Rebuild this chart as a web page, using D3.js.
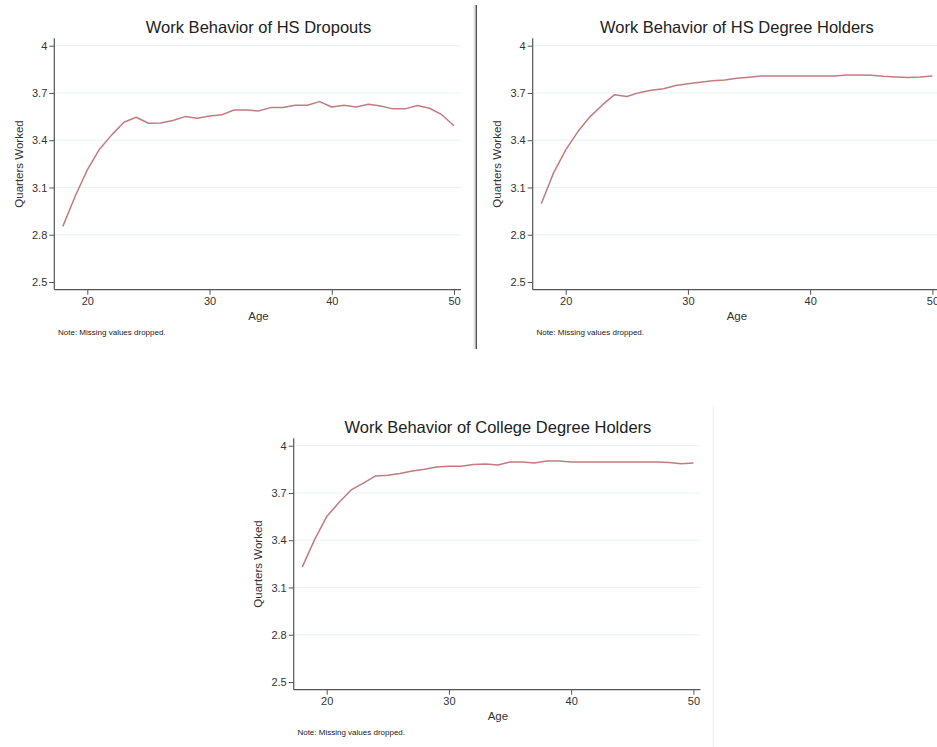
<!DOCTYPE html>
<html>
<head>
<meta charset="utf-8">
<script src="https://cdn.jsdelivr.net/npm/d3@7"></script>
<style>
  body { margin: 0; background: #fff; }
  svg { display: block; font-family: "Liberation Sans", Arial, Helvetica, sans-serif; }
</style>
</head>
<body>
<svg id="chart" width="937" height="747"></svg>
<script>
// --- Data ---
const ages = d3.range(18, 51);

const dropouts = [
  2.853, 3.043, 3.212, 3.343, 3.434, 3.514, 3.546, 3.508, 3.510, 3.525,
  3.550, 3.540, 3.554, 3.561, 3.592, 3.592, 3.585, 3.607, 3.607, 3.622,
  3.622, 3.645, 3.611, 3.622, 3.611, 3.628, 3.617, 3.599, 3.599, 3.620,
  3.603, 3.562, 3.492
];

const hsDegree = [
  2.997, 3.191, 3.339, 3.455, 3.550, 3.624, 3.689, 3.677, 3.702, 3.717,
  3.727, 3.747, 3.759, 3.768, 3.778, 3.783, 3.793, 3.800, 3.808, 3.808,
  3.808, 3.808, 3.808, 3.808, 3.808, 3.814, 3.814, 3.812, 3.806, 3.802,
  3.798, 3.802, 3.808
];

const college = [
  3.229, 3.402, 3.550, 3.639, 3.719, 3.762, 3.808, 3.812, 3.823, 3.840,
  3.850, 3.865, 3.869, 3.869, 3.880, 3.884, 3.878, 3.897, 3.897, 3.890,
  3.903, 3.903, 3.897, 3.897, 3.897, 3.897, 3.897, 3.897, 3.897, 3.897,
  3.893, 3.886, 3.890
];

const yTicks = [2.5, 2.8, 3.1, 3.4, 3.7, 4];
const xTicks = [20, 30, 40, 50];

const panels = [
  { title: "Work Behavior of HS Dropouts", values: dropouts, dx: 0, dy: 0 },
  { title: "Work Behavior of HS Degree Holders", values: hsDegree, dx: 478.4, dy: 0 },
  { title: "Work Behavior of College Degree Holders", values: college, dx: 239.4, dy: 400 }
];

const svg = d3.select("#chart");
svg.append("rect").attr("width", 937).attr("height", 747).attr("fill", "#fff");

// --- Separators between the graphs ---
svg.append("line")
  .attr("x1", 474.5).attr("x2", 474.5).attr("y1", 5).attr("y2", 349)
  .attr("stroke", "#e2e2e2").attr("stroke-width", 2);
svg.append("line")
  .attr("x1", 476.3).attr("x2", 476.3).attr("y1", 5).attr("y2", 349)
  .attr("stroke", "#555").attr("stroke-width", 1.4);
svg.append("line")
  .attr("x1", 713.3).attr("x2", 713.3).attr("y1", 405).attr("y2", 747)
  .attr("stroke", "#edf1f1").attr("stroke-width", 1.2);

function drawPanel(p) {
  const g = svg.append("g").attr("transform", `translate(${p.dx},${p.dy})`);

  const x = d3.scaleLinear().domain([20, 50]).range([87.3, 454]);
  const y = d3.scaleLinear().domain([2.5, 4]).range([282, 45.7]);

  const axisLeft = 54.3, axisRight = 461, axisTop = 38.3, axisBottom = 289.7;

  // gridlines
  g.append("g")
    .selectAll("line")
    .data(yTicks.filter(t => t > 2.5))
    .join("line")
    .attr("x1", axisLeft).attr("x2", axisRight)
    .attr("y1", d => y(d)).attr("y2", d => y(d))
    .attr("stroke", "#eaf3f3").attr("stroke-width", 1);

  // y axis
  const yAxis = g.append("g")
    .attr("transform", `translate(${axisLeft},0)`)
    .call(d3.axisLeft(y).tickValues(yTicks).tickFormat(d3.format("")).tickSize(5).tickPadding(2).tickSizeOuter(0));
  yAxis.select(".domain").remove();
  yAxis.append("line")
    .attr("x1", 0).attr("x2", 0).attr("y1", axisTop).attr("y2", axisBottom)
    .attr("stroke", "#555").attr("stroke-width", 1.2);

  // x axis
  const xAxis = g.append("g")
    .attr("transform", `translate(0,${axisBottom})`)
    .call(d3.axisBottom(x).tickValues(xTicks).tickSize(5).tickPadding(3).tickSizeOuter(0));
  xAxis.select(".domain").remove();
  xAxis.append("line")
    .attr("x1", axisLeft).attr("x2", axisRight).attr("y1", 0).attr("y2", 0)
    .attr("stroke", "#555").attr("stroke-width", 1.2);

  g.selectAll(".tick line").attr("stroke", "#555").attr("stroke-width", 1);
  g.selectAll(".tick text").attr("fill", "#333").attr("font-size", 11)
    .attr("font-family", "'Liberation Sans', Arial, sans-serif");

  // line
  const line = d3.line()
    .x((d, i) => x(ages[i]))
    .y(d => y(d));
  g.append("path")
    .datum(p.values)
    .attr("d", line)
    .attr("fill", "none")
    .attr("stroke", "#c27c7f")
    .attr("stroke-width", 1.5)
    .attr("stroke-linejoin", "round");

  // title
  g.append("text")
    .attr("x", 258.5).attr("y", 33)
    .attr("text-anchor", "middle")
    .attr("font-size", 16.5)
    .attr("fill", "#222")
    .text(p.title);

  // axis titles
  g.append("text")
    .attr("transform", `translate(23,${(axisTop + axisBottom) / 2 + 0}) rotate(-90)`)
    .attr("text-anchor", "middle")
    .attr("font-size", 11.5)
    .attr("fill", "#333")
    .text("Quarters Worked");

  g.append("text")
    .attr("x", 258.5).attr("y", 319.5)
    .attr("text-anchor", "middle")
    .attr("font-size", 11.5)
    .attr("fill", "#333")
    .text("Age");

  g.append("text")
    .attr("x", 58).attr("y", 335)
    .attr("font-size", 8)
    .attr("fill", "#222")
    .text("Note: Missing values dropped.");
}

panels.forEach(drawPanel);
</script>
</body>
</html>
